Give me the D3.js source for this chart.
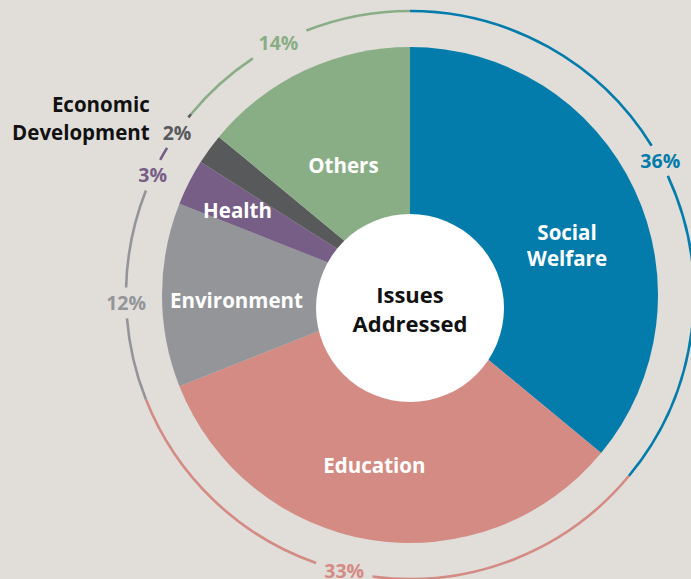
<!DOCTYPE html>
<html><head><meta charset="utf-8">
<script src="https://cdn.jsdelivr.net/npm/d3@7"></script>
<style>
html,body{margin:0;padding:0;background:#e1deda;}
svg{display:block;}
</style></head><body>
<svg id="chart" width="691" height="579"></svg>
<script>
// ---- data ----
const categories = ["Social Welfare","Education","Environment","Health","Economic Development","Others"];
const values = [36,33,12,3,2,14];
const percentLabels = ["36%","33%","12%","3%","2%","14%"];
const colors = ["#037cab","#d48b84","#939598","#775e86","#58595b","#89ae86"];
const centerTitle = ["Issues","Addressed"];

// ---- layout ----
const W = 691, H = 579;
const cx = 410, cy = 295, R = 248, ringR = 284;
const hole = {x: 410, y: 308, r: 94};
const pctShift = [-3, 4.4, -1.6, -2, -1.1, -2.4];          // deg from slice mid angle
const insideLabel = [[72.7,164.5],[191.8,174.2],[268.2,173.6],[296.1,192.1],null,[332.8,145.6]];
const font = "'Open Sans', 'DejaVu Sans', sans-serif";
const deg = Math.PI/180;

const svg = d3.select("#chart");
svg.append("rect").attr("width",W).attr("height",H).attr("fill","#e1deda");

const pie = d3.pie().sort(null).value(d => d)(values);
const arc = d3.arc().innerRadius(0).outerRadius(R);

const g = svg.append("g").attr("transform",`translate(${cx},${cy})`);
g.selectAll("path.slice").data(pie).join("path")
  .attr("class","slice")
  .attr("d", arc)
  .attr("fill",(d,i)=>colors[i]);

// hole
svg.append("circle").attr("cx",hole.x).attr("cy",hole.y).attr("r",hole.r).attr("fill","#ffffff");
centerTitle.forEach((s,k)=>{
  svg.append("text").attr("x",hole.x).attr("y",hole.y - 5 + k*29)
    .attr("text-anchor","middle").attr("font-family",font).attr("font-weight",700)
    .attr("font-size",22).attr("fill","#111").text(s);
});

// inside labels
pie.forEach((d,i)=>{
  const L = insideLabel[i]; if(!L) return;
  const a = L[0]*deg, r = L[1];
  const x = cx + r*Math.sin(a), y = cy - r*Math.cos(a);
  const words = categories[i].split(" ");
  const lines = (i===0) ? words : [categories[i]];
  const t = svg.append("text").attr("text-anchor","middle").attr("font-family",font)
    .attr("font-weight",700).attr("font-size",20.5).attr("fill","#ffffff");
  const lh = 26;
  lines.forEach((s,k)=>{
    t.append("tspan").attr("x",x)
     .attr("y", y + (k - (lines.length-1)/2)*lh).attr("dy","0.36em").text(s);
  });
});

// percent labels on the ring
const fs = 19.5, cap = 0.72*fs, pad = 8;
const boxes = [];
pie.forEach((d,i)=>{
  const mid = (d.startAngle + d.endAngle)/2 + pctShift[i]*deg;
  const x = cx + ringR*Math.sin(mid), y = cy - ringR*Math.cos(mid);
  const t = svg.append("text").attr("x",x).attr("y",y + cap/2)
    .attr("text-anchor","middle").attr("font-family",font).attr("font-weight",700)
    .attr("font-size",fs).attr("fill",colors[i]).text(percentLabels[i]);
  const w = t.node().getComputedTextLength();
  boxes.push({x0:x-w/2-pad, x1:x+w/2+pad, y0:y-cap/2-pad, y1:y+cap/2+pad, lx:x-w/2, by:y+cap/2});
});

// outside category label for small slice
const ed = boxes[4];
const edWords = ["Economic","Development"];
edWords.forEach((s,k)=>{
  svg.append("text").attr("text-anchor","end").attr("font-family",font)
    .attr("font-weight",700).attr("font-size",20.5).attr("fill","#111")
    .attr("x", ed.lx - 13).attr("y", ed.by - (edWords.length-1-k)*28).text(s);
});

// ring segments with gaps
const inside = (x,y) => boxes.some(b => x>=b.x0 && x<=b.x1 && y>=b.y0 && y<=b.y1);
pie.forEach((d,i)=>{
  const step = 0.1*deg;
  let runs = [], cur = null;
  for(let a = d.startAngle; a <= d.endAngle + 1e-9; a += step){
    const x = cx + ringR*Math.sin(a), y = cy - ringR*Math.cos(a);
    if(!inside(x,y)){
      if(!cur){cur=[a,a];} else cur[1]=a;
    } else if(cur){runs.push(cur); cur=null;}
  }
  if(cur) runs.push(cur);
  runs.forEach(r=>{
    if(r[1]-r[0] < 1e-6) return;
    const p = d3.path();
    p.arc(cx, cy, ringR, r[0]-Math.PI/2, r[1]-Math.PI/2);
    svg.append("path").attr("d",p.toString()).attr("fill","none")
      .attr("stroke",colors[i]).attr("stroke-width",2.6);
  });
});
</script>
</body></html>
